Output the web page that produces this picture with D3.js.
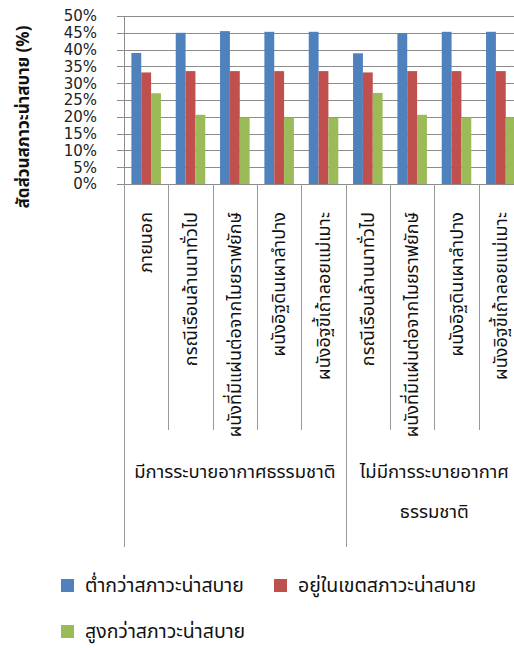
<!DOCTYPE html>
<html><head><meta charset="utf-8">
<script src="https://cdn.jsdelivr.net/npm/d3@7"></script>
<style>
body{margin:0;background:#fff;}
svg{display:block;}
text{font-family:Tahoma,"Noto Sans Thai","Leelawadee UI","DejaVu Sans",sans-serif;}
</style></head>
<body><svg id="c" width="514" height="648"></svg>
<script>
const categories = ["ภายนอก","กรณีเรือนล้านนาทั่วไป","ผนังที่มีแผ่นต่อจากไมยราฟยักษ์","ผนังอิฐดินเผาลำปาง","ผนังอิฐขี้เถ้าลอยแม่เมาะ",
                    "กรณีเรือนล้านนาทั่วไป","ผนังที่มีแผ่นต่อจากไมยราฟยักษ์","ผนังอิฐดินเผาลำปาง","ผนังอิฐขี้เถ้าลอยแม่เมาะ"];
const groups = [
  {lines:["มีการระบายอากาศธรรมชาติ"], count:5},
  {lines:["ไม่มีการระบายอากาศ","ธรรมชาติ"], count:4}
];
const seriesNames = ["ต่ำกว่าสภาวะน่าสบาย","อยู่ในเขตสภาวะน่าสบาย","สูงกว่าสภาวะน่าสบาย"];
const seriesColors = ["#4F81BD","#C0504D","#9BBB59"];
const belowComfort = [39.0, 45.0, 45.5, 45.3, 45.3, 38.9, 44.9, 45.3, 45.3];
const inComfort    = [33.2, 33.6, 33.6, 33.6, 33.6, 33.2, 33.6, 33.6, 33.6];
const aboveComfort = [27.0, 20.6, 19.8, 19.8, 19.8, 27.1, 20.6, 19.8, 19.8];
const yTicks = [0,5,10,15,20,25,30,35,40,45,50];
const yTitle = "สัดส่วนสภาวะน่าสบาย (%)";

(function(){
const series = [belowComfort, inComfort, aboveComfort];
const svg = d3.select("#c");
const pL = 124, pR = 523, pT = 16, pB = 184;
const idx = categories.map((d,i)=>i);
const x0 = d3.scaleBand().domain(idx).range([pL,pR]).paddingInner(1/3).paddingOuter(1/6);
const xs = d3.scaleBand().domain(idx).range([pL,pR]);
const x1 = d3.scaleBand().domain([0,1,2]).range([0,x0.bandwidth()]);
const y = d3.scaleLinear().domain([0,50]).range([pB,pT]);
const grid = "#8c8c8c";

svg.append("g").selectAll("line").data(yTicks).join("line")
  .attr("x1",pL-7).attr("x2",514).attr("y1",d=>Math.round(y(d))+0.5).attr("y2",d=>Math.round(y(d))+0.5)
  .attr("stroke",grid).attr("stroke-width",1);
svg.append("g").selectAll("text").data(yTicks).join("text")
  .attr("x",97).attr("y",d=>y(d)).attr("dy","0.36em").attr("text-anchor","end")
  .attr("font-size",15).attr("fill","#222").style("font-family","'DejaVu Sans',Verdana,sans-serif")
  .text(d=>d+"%");
svg.append("line").attr("x1",pL+0.5).attr("x2",pL+0.5).attr("y1",pT).attr("y2",pB).attr("stroke",grid);

const bg = svg.append("g");
series.forEach((vals,s)=>{
  bg.selectAll(null).data(vals).join("rect")
    .attr("x",(d,i)=>x0(i)+x1(s)).attr("width",x1.bandwidth())
    .attr("y",d=>y(d)).attr("height",d=>y(0)-y(d))
    .attr("fill",seriesColors[s]);
});

const seps = d3.range(categories.length+1).map(i=>pL+i*xs.step());
const groupEdges = [0]; groups.forEach(g=>groupEdges.push(groupEdges[groupEdges.length-1]+g.count));
svg.append("g").selectAll("line").data(seps.map((xv,i)=>({xv,i}))).join("line")
  .attr("x1",d=>Math.round(d.xv)+0.5).attr("x2",d=>Math.round(d.xv)+0.5)
  .attr("y1",pB).attr("y2",d=>groupEdges.includes(d.i)?547:430)
  .attr("stroke","#999").attr("stroke-width",1);

svg.append("g").selectAll("text").data(categories).join("text")
  .attr("transform",(d,i)=>`translate(${xs(i)+xs.step()/2},212) rotate(-90)`)
  .attr("text-anchor","end").attr("dy","0.35em").attr("font-size",18).attr("fill","#111")
  .text(d=>d);

let start=0;
groups.forEach(g=>{
  const cx = pL + (start + g.count/2)*xs.step();
  g.lines.forEach((ln,k)=>{
    svg.append("text").attr("x",cx).attr("y",472+k*40).attr("dy","0.35em").attr("text-anchor","middle")
      .attr("font-size",18.5).attr("fill","#111").text(ln);
  });
  start+=g.count;
});

svg.append("text").attr("transform","translate(23,117) rotate(-90)")
  .attr("text-anchor","middle").attr("dy","0.35em").attr("font-size",17).attr("font-weight","bold")
  .attr("fill","#111").text(yTitle);

const legendPos = [{x:61,y:579},{x:274,y:579},{x:61,y:625}];
seriesNames.forEach((n,s)=>{
  const p = legendPos[s];
  svg.append("rect").attr("x",p.x).attr("y",p.y).attr("width",13).attr("height",13).attr("fill",seriesColors[s]);
  svg.append("text").attr("x",p.x+24).attr("y",p.y+6).attr("dy","0.35em").attr("font-size",19.5).attr("fill","#111").text(n);
});
})();
</script></body></html>
